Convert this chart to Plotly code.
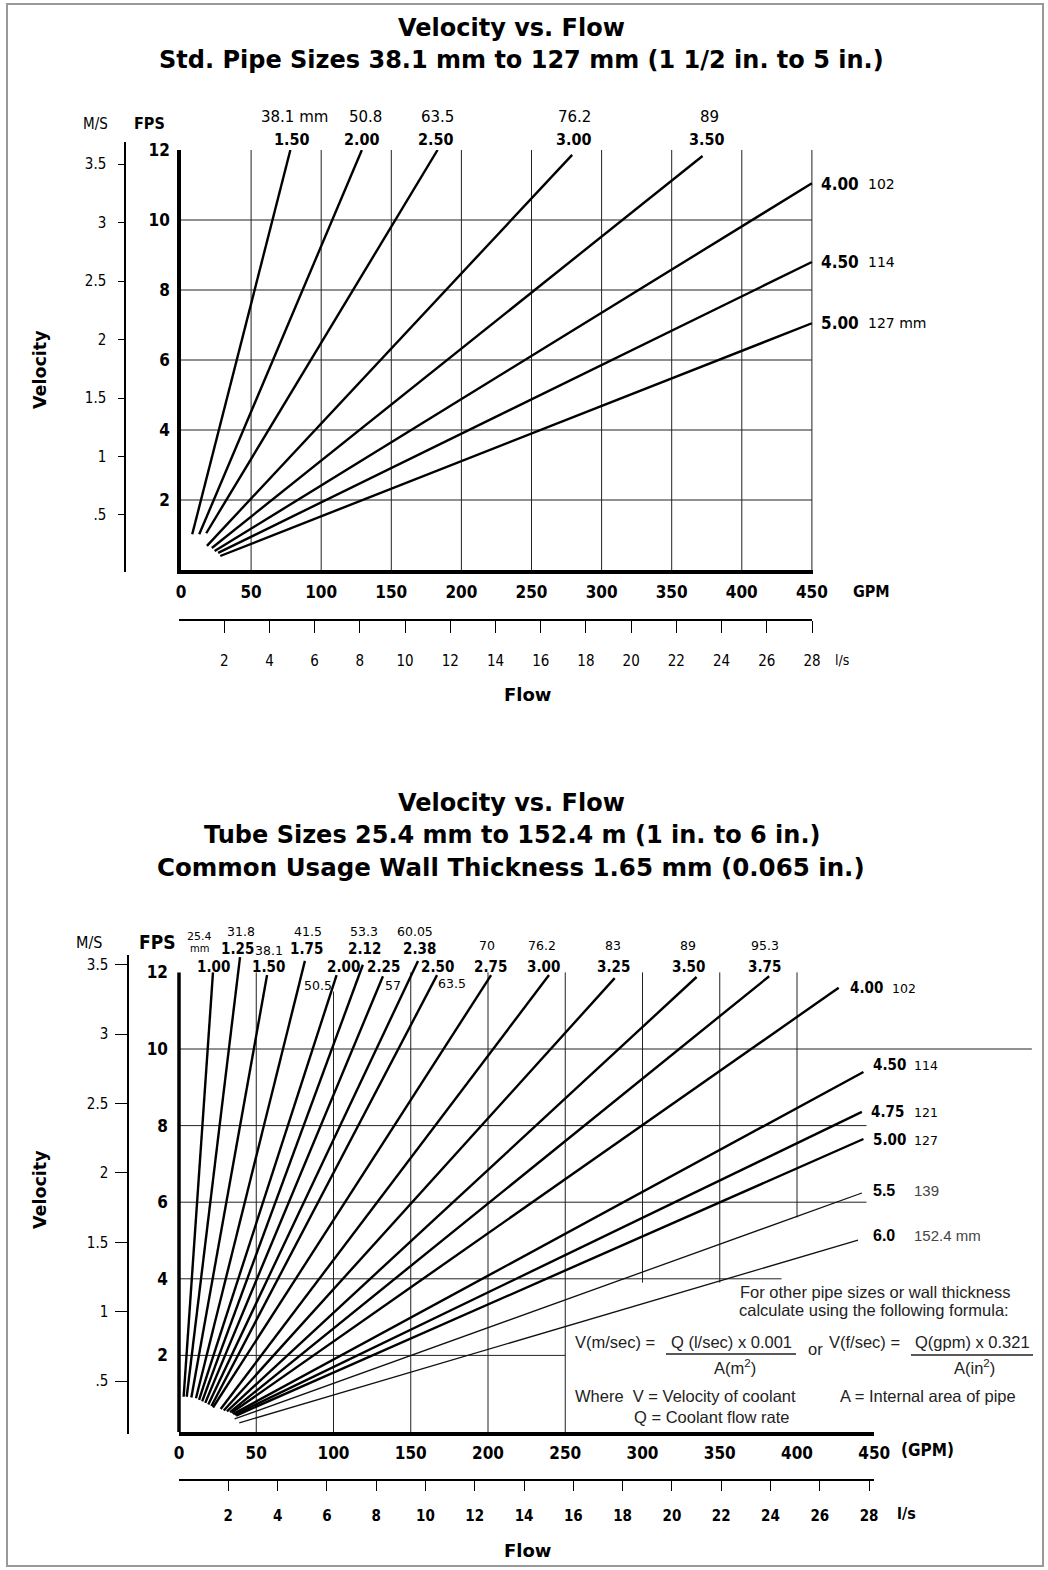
import plotly.graph_objects as go

W, H = 1048, 1570


def px(x):
    return x / W


def py(y):
    return 1 - y / H


# ---------------- DATA ----------------
# Top chart: standard pipe sizes (inch nominal / mm), line endpoints (GPM, FPS)
top_in = ["1.50", "2.00", "2.50", "3.00", "3.50", "4.00", "4.50", "5.00"]
top_mm = ["38.1 mm", "50.8", "63.5", "76.2", "89", "102", "114", "127 mm"]
top_gpm_start = [8, 13, 18, 18.5, 22, 24, 26.5, 28]
top_fps_start = [1.02, 1.02, 1.05, 0.69, 0.63, 0.54, 0.49, 0.40]
top_gpm_end = [78, 129, 183, 279, 372, 450, 450, 450]
top_fps_end = [12, 12, 12, 11.86, 11.83, 11.05, 8.8, 7.05]

# Bottom chart: tube sizes
bot_in = ["1.00", "1.25", "1.50", "1.75", "2.00", "2.12", "2.25", "2.38", "2.50", "2.75",
          "3.00", "3.25", "3.50", "3.75", "4.00", "4.50", "4.75", "5.00", "5.5", "6.0"]
bot_mm = ["25.4", "31.8", "38.1", "41.5", "50.5", "53.3", "57", "60.05", "63.5", "70",
          "76.2", "83", "89", "95.3", "102", "114", "121", "127", "139", "152.4 mm"]
bot_gpm_start = [3, 5, 8, 11, 13, 15, 17, 19, 21, 22, 27, 29, 31, 33, 34, 35, 36, 37, 36, 39]
bot_fps_start = [0.92, 0.92, 0.90, 0.88, 0.84, 0.80, 0.76, 0.72, 0.68, 0.64,
                 0.60, 0.56, 0.54, 0.52, 0.50, 0.47, 0.45, 0.43, 0.34, 0.24]
bot_gpm_end = [22, 39.5, 57, 81.5, 102, 119, 132, 154.7, 167, 202,
               239.5, 282, 335, 382, 427, 443, 442, 443, 442, 439.5]
bot_fps_end = [12, 12.4, 11.93, 12.3, 11.93, 12.2, 11.9, 12.3, 11.93, 11.93,
               11.93, 11.85, 11.88, 11.9, 11.6, 9.4, 8.36, 7.65, 6.24, 5.01]

# Axis tick values / labels
gpm_ticks = [0, 50, 100, 150, 200, 250, 300, 350, 400, 450]
fps_ticks = [2, 4, 6, 8, 10, 12]
ms_ticks = [0.5, 1, 1.5, 2, 2.5, 3, 3.5]
ms_labels = [".5", "1", "1.5", "2", "2.5", "3", "3.5"]
ls_ticks = [2, 4, 6, 8, 10, 12, 14, 16, 18, 20, 22, 24, 26, 28]

# Grid lines
top_vgrid = [50, 100, 150, 200, 250, 300, 350, 400, 450]
top_hgrid = [2, 4, 6, 8, 10]
bot_vgrid = [50, 100, 150, 200, 250, 300, 350, 400]
bot_vgrid_from = [0, 0, 0, 0, 0, 3.9, 3.9, 5.6]
bot_vgrid_to = [12, 11.5, 12, 12, 12, 12, 12, 12]
bot_hgrid = [2, 4, 6, 8, 10]
bot_hgrid_to = [250, 390, 445, 445, 552]

COND = "DejaVu Sans Condensed, Liberation Sans Narrow, Arial Narrow, sans-serif"
DJ = "DejaVu Sans, Verdana, sans-serif"
SANS = "Liberation Sans, Arial, Helvetica, sans-serif"

fig = go.Figure()

for i in range(len(top_in)):
    fig.add_trace(go.Scatter(
        x=[top_gpm_start[i], top_gpm_end[i]], y=[top_fps_start[i], top_fps_end[i]],
        mode="lines", line=dict(color="black", width=2.4),
        xaxis="x", yaxis="y", showlegend=False, hoverinfo="skip"))

for i in range(len(bot_in)):
    thin = bot_in[i] in ("5.5", "6.0")
    fig.add_trace(go.Scatter(
        x=[bot_gpm_start[i], bot_gpm_end[i]], y=[bot_fps_start[i], bot_fps_end[i]],
        mode="lines", line=dict(color="#111" if thin else "black", width=1.3 if thin else 2.4),
        xaxis="x2", yaxis="y2", showlegend=False, hoverinfo="skip"))

# placeholder traces so the secondary scales are drawn
for xa, ya in (("x3", "y"), ("x", "y3"), ("x4", "y2"), ("x2", "y4")):
    fig.add_trace(go.Scatter(x=[None], y=[None], xaxis=xa, yaxis=ya, mode="lines",
                             showlegend=False, hoverinfo="skip"))

bold_tick = dict(family=COND, size=17, color="black")

top_px_per_gpm = 1.402
bot_px_per_gpm = 1.545
bot_px_per_fps = 38.3

layout = dict(
    width=W, height=H, margin=dict(l=0, r=0, t=0, b=0, autoexpand=False), autosize=False,
    paper_bgcolor="white", plot_bgcolor="rgba(0,0,0,0)", showlegend=False,
    # top chart
    xaxis=dict(domain=[px(181), px(181 + 451 * top_px_per_gpm)], range=[0, 451], anchor="y",
               tickvals=gpm_ticks, ticktext=["<b>%d</b>" % v for v in gpm_ticks],
               tickfont=bold_tick, ticks="", ticklabelstandoff=4,
               showgrid=False, zeroline=False, showline=True, linecolor="black", linewidth=3.5),
    yaxis=dict(domain=[py(570), py(150)], range=[0, 12], anchor="x",
               tickvals=fps_ticks, ticktext=["<b>%d</b>" % v for v in fps_ticks],
               tickfont=bold_tick, ticks="", ticklabelstandoff=4,
               showgrid=False, zeroline=False, showline=True, linecolor="black", linewidth=3.5),
    xaxis3=dict(domain=[px(179), px(812)], range=[0, 28], anchor="free", position=py(620),
                tickvals=ls_ticks, ticktext=[str(v) for v in ls_ticks],
                tickfont=dict(family=COND, size=15, color="black"),
                ticks="outside", ticklen=12, tickwidth=1.2, tickcolor="black", ticklabelstandoff=15,
                showgrid=False, zeroline=False, showline=True, linecolor="black", linewidth=1.5),
    yaxis3=dict(domain=[py(572), py(142)], range=[0.012, 3.69], anchor="free", position=px(125),
                side="left", tickvals=ms_ticks, ticktext=ms_labels,
                tickfont=dict(family=COND, size=15, color="black"),
                ticks="outside", ticklen=6, tickwidth=1.2, tickcolor="black", ticklabelstandoff=9,
                showgrid=False, zeroline=False, showline=True, linecolor="black", linewidth=1.5),
    # bottom chart
    xaxis2=dict(domain=[px(179), px(179 + 450 * bot_px_per_gpm)], range=[0, 450], anchor="y2",
                tickvals=gpm_ticks, ticktext=["<b>%d</b>" % v for v in gpm_ticks],
                tickfont=bold_tick, ticks="", ticklabelstandoff=3,
                showgrid=False, zeroline=False, showline=True, linecolor="black", linewidth=4),
    yaxis2=dict(domain=[py(1432), py(1432 - 12.6 * bot_px_per_fps)], range=[0, 12.6], anchor="x2",
                tickvals=fps_ticks, ticktext=["<b>%d</b>" % v for v in fps_ticks],
                tickfont=bold_tick, ticks="", ticklabelstandoff=10,
                showgrid=False, zeroline=False, showline=False),
    xaxis4=dict(domain=[px(179), px(874)], range=[0, 28.2], anchor="free", position=py(1480),
                tickvals=ls_ticks, ticktext=["<b>%d</b>" % v for v in ls_ticks],
                tickfont=dict(family=COND, size=15, color="black"),
                ticks="outside", ticklen=10, tickwidth=1.2, tickcolor="black", ticklabelstandoff=12,
                showgrid=False, zeroline=False, showline=True, linecolor="black", linewidth=2),
    yaxis4=dict(domain=[py(1434), py(955)], range=[0.12, 3.57], anchor="free", position=px(128),
                side="left", tickvals=ms_ticks, ticktext=ms_labels,
                tickfont=dict(family=COND, size=15, color="black"),
                ticks="outside", ticklen=12, tickwidth=1.2, tickcolor="black", ticklabelstandoff=4,
                showgrid=False, zeroline=False, showline=True, linecolor="black", linewidth=1.5),
)
fig.update_layout(**layout)

shapes = []
GRID = dict(color="#222", width=1)
for g in top_vgrid:
    shapes.append(dict(type="line", xref="x", yref="y", x0=g, x1=g, y0=0, y1=12, line=GRID, layer="below"))
for f in top_hgrid:
    shapes.append(dict(type="line", xref="x", yref="y", x0=0, x1=450, y0=f, y1=f, line=GRID, layer="below"))
for g, a, b in zip(bot_vgrid, bot_vgrid_from, bot_vgrid_to):
    shapes.append(dict(type="line", xref="x2", yref="y2", x0=g, x1=g, y0=a, y1=b, line=GRID, layer="below"))
for f, e in zip(bot_hgrid, bot_hgrid_to):
    shapes.append(dict(type="line", xref="x2 domain", yref="y2", x0=0, x1=e / 450, y0=f, y1=f,
                       line=GRID, layer="below"))
# bottom FPS axis line (0..12)
shapes.append(dict(type="line", xref="x2 domain", yref="y2", x0=0, x1=0, y0=0, y1=12,
                   line=dict(color="black", width=3.5)))
# fraction bars of the formula
shapes.append(dict(type="line", xref="paper", yref="paper", x0=px(666), x1=px(796), y0=py(1354), y1=py(1354),
                   line=dict(color="#222", width=1.3)))
shapes.append(dict(type="line", xref="paper", yref="paper", x0=px(911), x1=px(1033), y0=py(1355), y1=py(1355),
                   line=dict(color="#222", width=1.3)))
# outer frame
shapes.append(dict(type="rect", xref="paper", yref="paper", x0=px(7), x1=px(1043), y0=py(1566), y1=py(4),
                   line=dict(color="#999", width=2)))
fig.update_layout(shapes=shapes)

anns = []


def ann(text, x, y, size=14, family=SANS, xanchor="center", color="black", angle=0, yanchor="middle"):
    anns.append(dict(text=text, x=px(x), y=py(y), xref="paper", yref="paper", showarrow=False,
                     xanchor=xanchor, yanchor=yanchor, textangle=angle,
                     font=dict(family=family, size=size, color=color)))


# titles
ann("<b>Velocity vs. Flow</b>", 511, 28, size=24, family=DJ)
ann("<b>Std. Pipe Sizes 38.1 mm to 127 mm (1 1/2 in. to 5 in.)</b>", 521, 60, size=24, family=DJ)
ann("<b>Velocity vs. Flow</b>", 511, 803, size=24, family=DJ)
ann("<b>Tube Sizes 25.4 mm to 152.4 m (1 in. to 6 in.)</b>", 512, 835, size=24, family=DJ)
ann("<b>Common Usage Wall Thickness 1.65 mm (0.065 in.)</b>", 511, 867, size=24.5, family=DJ)

# axis captions
ann("<b>Velocity</b>", 40, 370, size=17.5, family=DJ, angle=-90)
ann("<b>Velocity</b>", 40, 1190, size=17.5, family=DJ, angle=-90)
ann("<b>Flow</b>", 527, 694, size=18, family=DJ)
ann("<b>Flow</b>", 527, 1550, size=18, family=DJ)
ann("M/S", 95, 124, size=15, family=COND)
ann("<b>FPS</b>", 149, 124, size=16, family=COND)
ann("M/S", 89, 942, size=16, family=COND)
ann("<b>FPS</b>", 157, 942, size=19, family=COND)
ann("<b>GPM</b>", 871, 591, size=16, family=COND)
ann("l/s", 842, 660, size=14, family=COND)
ann("<b>(GPM)</b>", 927, 1450, size=17, family=COND)
ann("<b>l/s</b>", 906, 1513, size=16, family=COND)

# top chart line labels
top_lab_x = [292, 362, 436, 574, 707]
top_mm_x = [294, 365, 437, 574, 709]
for i in range(5):
    ann("<b>%s</b>" % top_in[i], top_lab_x[i], 140, size=16, family=COND)
    ann(top_mm[i], top_mm_x[i], 117, size=15, family=DJ)
top_right_y = [184, 262, 323]
for j, i in enumerate(range(5, 8)):
    ann("<b>%s</b>" % top_in[i], 819, top_right_y[j], size=17, family=COND, xanchor="left")
    ann(top_mm[i], 866, top_right_y[j], size=14, family=DJ, xanchor="left")

# bottom chart line labels (top rows)
bot_lab_pos = [(213, 967), (237, 949), (268, 967), (306, 949), (343, 967), (364, 949), (383, 967),
               (419, 949), (437, 967), (490, 967), (543, 967), (613, 967), (688, 967), (764, 967)]
bot_mm_pos = [(199, 937), (241, 931), (269, 950), (308, 931), (318, 985), (364, 931), (393, 985),
              (415, 931), (452, 983), (487, 945), (542, 945), (613, 945), (688, 945), (765, 945)]
for i in range(14):
    ann("<b>%s</b>" % bot_in[i], bot_lab_pos[i][0], bot_lab_pos[i][1], size=15, family=COND)
    if i == 0:
        ann(bot_mm[i], bot_mm_pos[i][0], 936, size=11, family=DJ)
        ann("mm", bot_mm_pos[i][0], 948, size=10, family=DJ)
    else:
        ann(bot_mm[i], bot_mm_pos[i][0], bot_mm_pos[i][1], size=12.5, family=DJ)
# right side labels
bot_right = [(848, 890, 988), (871, 912, 1065), (869, 912, 1112), (871, 912, 1140), (871, 912, 1190),
             (871, 912, 1235)]
for j, i in enumerate(range(14, 20)):
    lx, mx, yy = bot_right[j]
    if bot_in[i] in ("5.5", "6.0"):
        ann("<b>%s</b>" % bot_in[i], lx, yy, size=16, family=SANS, xanchor="left")
        ann(bot_mm[i], mx, yy, size=15, family=SANS, xanchor="left", color="#444")
    else:
        ann("<b>%s</b>" % bot_in[i], lx, yy, size=15, family=COND, xanchor="left")
        ann(bot_mm[i], mx, yy, size=12.5, family=DJ, xanchor="left")

# formula block
FC = "#222"
FS = 16.5
ann("For other pipe sizes or wall thickness", 875, 1292, size=FS, color=FC)
ann("calculate using the following formula:", 874, 1310, size=FS, color=FC)
ann("V(m/sec) =", 573, 1342, size=FS, color=FC, xanchor="left")
ann("Q (l/sec) x 0.001", 731, 1342, size=FS, color=FC)
ann("A(m<sup>2</sup>)", 735, 1367, size=FS, color=FC)
ann("or", 815, 1349, size=FS, color=FC)
ann("V(f/sec) =", 827, 1342, size=FS, color=FC, xanchor="left")
ann("Q(gpm) x 0.321", 972, 1342, size=FS, color=FC)
ann("A(in<sup>2</sup>)", 974, 1367, size=FS, color=FC)
ann("Where  V = Velocity of coolant", 573, 1396, size=FS, color=FC, xanchor="left")
ann("A = Internal area of pipe", 838, 1396, size=FS, color=FC, xanchor="left")
ann("Q = Coolant flow rate", 632, 1417, size=FS, color=FC, xanchor="left")

fig.update_layout(annotations=anns)

fig.write_html("out.html", config={"displayModeBar": False},
               post_script="document.body.style.margin='0';document.body.style.overflow='hidden';")
